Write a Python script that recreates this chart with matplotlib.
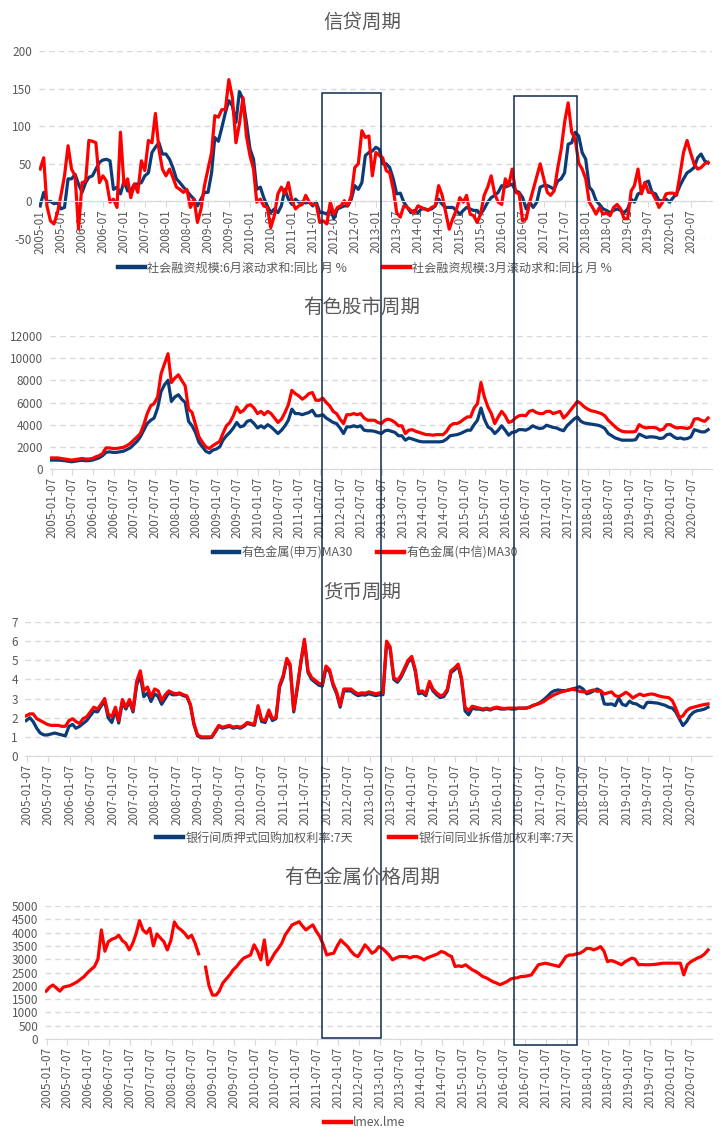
import numpy as np
import pandas as pd
import matplotlib
matplotlib.use('Agg')
import matplotlib.pyplot as plt
import matplotlib.dates as mdates
from matplotlib.patches import Rectangle

plt.rcParams['font.family'] = ['Noto Sans CJK SC', 'DejaVu Sans']
plt.rcParams['axes.unicode_minus'] = False

# 月度日期 2005-01 ~ 2020-12
months = pd.date_range('2005-01-01', periods=192, freq='MS')

# 信贷周期：社会融资规模同比
tsf_6m = [
    -6, 12, 0, 0, -3, -2, -10, -8, 30, 30, 36, 23,
    12, 25, 32, 34, 43, 52, 55, 56, 54, 16, 19, 10,
    27, 14, 14, 23, 23, 25, 34, 38, 65, 72, 78, 63,
    63, 56, 45, 30, 25, 19, 14, 8, 3, -6, 3, 12,
    12, 38, 85, 80, 98, 118, 134, 127, 105, 146, 136, 105,
    70, 56, 16, 19, 5, -6, -15, -10, -15, -6, 16, 3,
    -4, 3, -1, -1, -2, -1, -6, -1, -15, -15, -17, -10,
    -23, -10, -8, -6, -6, 3, 21, 16, 25, 61, 65, 67,
    72, 69, 50, 50, 45, 30, 10, 11, -1, -8, -15, -12,
    -15, -10, -10, -11, -10, -6, 3, -4, -8, -8, -8, -12,
    -17, -12, -8, -10, -12, -12, -17, -10, -1, 5, 8, 12,
    21, 19, 21, 23, 14, 12, 5, -10, -1, -8, -1, 19,
    21, 21, 19, 16, 27, 30, 38, 76, 78, 92, 87, 65,
    56, 19, 14, 1, -4, -10, -12, -15, -12, -10, -12, -15,
    -10, 3, -1, 10, 12, 25, 27, 12, 10, 1, 1, 3,
    -1, 5, 10, 21, 30, 38, 41, 45, 58, 63, 54, 51,
]
tsf_3m = [
    43, 58, -6, -26, -30, -15, 8, 34, 74, 43, 34, -37,
    25, 27, 81, 80, 78, 25, 34, 27, -1, 3, -8, 92,
    21, 30, 5, 23, 12, 54, 41, 81, 78, 117, 69, 43,
    34, 43, 32, 19, 16, 12, 16, -8, 3, -28, -10, 21,
    43, 65, 114, 112, 122, 122, 162, 138, 78, 103, 138, 87,
    61, 43, -1, 3, -6, -8, -35, -19, 10, 19, 10, 25,
    1, -10, -6, -4, 8, -1, -4, -4, -28, -26, -30, -1,
    -17, -8, -6, 1, -6, 8, 45, 50, 94, 85, 87, 34,
    65, 61, 58, 41, 38, 16, -15, -21, -6, -8, -12, -15,
    -6, -8, -10, -12, -8, -6, 21, 8, -15, -37, -23, -12,
    5, -1, 8, -17, -19, -28, -17, 8, 19, 34, 10, -1,
    -4, 30, 21, 43, 12, 10, -26, -23, -1, 16, 34, 50,
    30, 12, 8, 14, 43, 69, 105, 131, 92, 83, 51, 43,
    30, -1, -8, -17, -8, -17, -15, -19, -8, -4, -10, -23,
    -23, 14, 21, 43, 10, 25, 12, 12, 3, -8, -1, 10,
    11, 11, 8, 36, 65, 81, 65, 50, 43, 45, 50, 52,
]

# 有色股市周期：MA30
sw_metal = [
    800, 800, 800, 780, 750, 700, 650, 700, 750, 780, 750, 750,
    800, 900, 1000, 1200, 1500, 1550, 1500, 1500, 1550, 1600, 1750, 1900,
    2200, 2500, 2900, 3500, 4100, 4400, 4600, 5500, 7000, 7600, 8000, 6100,
    6500, 6700, 6300, 6000, 4300, 3900, 3300, 2400, 2000, 1600, 1450, 1700,
    1800, 2000, 2600, 3000, 3300, 3700, 4200, 3800, 3900, 4300, 4400, 4100,
    3700, 3900, 3700, 4000, 3800, 3500, 3200, 3500, 3900, 4400, 5400, 5000,
    5000, 4900, 5000, 5100, 5300, 4800, 4800, 4900, 4600, 4400, 4200, 4100,
    3700, 3200, 3800, 3800, 3900, 3800, 3900, 3500, 3450, 3450, 3400, 3300,
    3200, 3450, 3500, 3400, 3300, 3000, 3000, 2600, 2800, 2700, 2600, 2500,
    2450, 2450, 2450, 2450, 2450, 2450, 2500, 2700, 3000, 3050, 3100, 3200,
    3350, 3500, 3500, 4000, 4400, 5500, 4500, 3800, 3600, 3200, 3500, 3900,
    3500, 3050, 3300, 3350, 3550, 3550, 3500, 3650, 3900, 3750, 3650, 3700,
    3950, 3850, 3750, 3700, 3550, 3450, 3900, 4200, 4500, 4700, 4300, 4150,
    4100, 4050, 4000, 3950, 3850, 3650, 3200, 3000, 2800, 2700, 2600, 2600,
    2600, 2600, 2650, 3150, 3000, 2850, 2900, 2900, 2850, 2750, 2800, 3100,
    3150, 2900, 2750, 2800, 2700, 2750, 2900, 3550, 3450, 3350, 3350, 3550,
]
citic_metal = [
    1000, 1000, 1000, 950, 900, 850, 800, 850, 900, 950, 900, 900,
    950, 1100, 1200, 1400, 1900, 1900, 1850, 1850, 1900, 1950, 2100, 2300,
    2600, 2900, 3200, 4000, 5000, 5700, 5900, 6500, 8600, 9500, 10400, 7800,
    8200, 8500, 8000, 7500, 5400, 5100, 4000, 2900, 2400, 2000, 1850, 2100,
    2300, 2500, 3200, 3900, 4200, 4800, 5600, 5100, 5300, 5700, 5800, 5500,
    5000, 5200, 4900, 5200, 5000, 4600, 4200, 4500, 5100, 5800, 7100, 6800,
    6600, 6300, 6500, 6800, 6900, 6200, 6200, 6400, 6000, 5700, 5200, 5000,
    4500, 4100, 4900, 4900, 5000, 4900, 5000, 4600, 4400, 4400, 4400, 4200,
    4100, 4400, 4500, 4400, 4200, 3900, 3900, 3200, 3500, 3550, 3400, 3300,
    3200, 3100, 3100, 3050, 3100, 3100, 3100, 3400, 3900, 4100, 4100, 4250,
    4500, 4700, 4700, 5500, 5900, 7800, 6500, 5600, 5000, 4100, 4700, 5200,
    4800, 4200, 4300, 4600, 4800, 4850, 4800, 5200, 5300, 5100, 5000, 5000,
    5200, 5200, 5000, 5100, 5200, 4600, 4900, 5300, 5700, 6100, 5900, 5600,
    5400, 5250, 5200, 5100, 5000, 4800, 4400, 4100, 3800, 3550, 3400, 3350,
    3350, 3350, 3400, 4000, 3800, 3700, 3750, 3750, 3700, 3500, 3600, 4000,
    4000, 3800, 3700, 3750, 3700, 3650, 3800, 4500, 4550, 4400, 4300, 4600,
]

# 货币周期：7天利率
repo_7d = [
    1.85, 2.0, 1.8, 1.45, 1.2, 1.1, 1.1, 1.15, 1.2, 1.15, 1.1, 1.05,
    1.55, 1.65, 1.45, 1.55, 1.7, 1.85, 2.1, 2.35, 2.3, 2.6, 2.85, 2.0,
    1.75, 2.4, 1.72, 2.8, 2.45, 2.85, 2.3, 3.7, 4.2, 3.1, 3.3, 2.85,
    3.25, 3.1, 2.7, 3.0, 3.3, 3.2, 3.2, 3.25, 3.15, 3.1, 2.65, 1.65,
    1.05, 0.95, 0.95, 0.95, 0.97, 1.25, 1.55, 1.45, 1.5, 1.55, 1.45, 1.5,
    1.45, 1.55, 1.7, 1.65, 1.6, 2.55, 1.8, 1.75, 2.3, 1.85, 1.95, 3.6,
    4.1, 5.0, 4.7, 2.3, 3.5, 4.85, 6.0, 4.35, 4.0, 3.85, 3.7, 3.65,
    4.6, 4.4, 3.7, 3.25, 2.55, 3.4, 3.4, 3.4, 3.25, 3.15, 3.2, 3.18,
    3.25, 3.2, 3.15, 3.2, 3.2, 5.9, 5.6, 4.0, 3.85, 4.1, 4.5, 4.9,
    5.1, 4.4, 3.25, 3.3, 3.15, 3.8, 3.4, 3.2, 3.05, 3.1, 3.4, 4.35,
    4.5, 4.7, 4.0, 2.35, 2.15, 2.5, 2.45, 2.45, 2.4, 2.45, 2.4, 2.48,
    2.5, 2.45, 2.45, 2.48, 2.45, 2.45, 2.5, 2.5, 2.5, 2.55, 2.65, 2.7,
    2.8, 2.95, 3.1, 3.3, 3.41, 3.45, 3.42, 3.41, 3.45, 3.5, 3.55, 3.62,
    3.5, 3.25, 3.3, 3.4, 3.5, 3.4, 2.72, 2.7, 2.72, 2.63, 3.03, 2.7,
    2.63, 2.86, 2.75, 2.72, 2.6, 2.51, 2.8, 2.8, 2.78, 2.76, 2.7, 2.65,
    2.55, 2.5, 2.3, 1.94, 1.59, 1.8, 2.11, 2.29, 2.37, 2.4, 2.45, 2.55,
]
ibor_7d = [
    2.1, 2.2, 2.2, 1.95, 1.85, 1.75, 1.65, 1.6, 1.6, 1.6, 1.55, 1.55,
    1.85, 1.95, 1.8, 1.7, 1.95, 2.05, 2.3, 2.55, 2.45, 2.7, 3.0, 2.2,
    2.05, 2.55, 1.85, 2.95, 2.55, 2.95, 2.4, 3.9, 4.45, 3.4, 3.6, 3.1,
    3.5, 3.4, 2.9, 3.2, 3.4, 3.3, 3.25, 3.3, 3.2, 3.15, 2.7, 1.7,
    1.1, 1.0, 1.0, 1.0, 1.0, 1.3, 1.6, 1.5, 1.55, 1.6, 1.5, 1.55,
    1.5, 1.6, 1.75, 1.7, 1.65, 2.63, 1.9, 1.85, 2.4, 1.95, 2.0, 3.7,
    4.2, 5.1, 4.8, 2.4, 3.6, 4.95, 6.1, 4.45, 4.1, 3.95, 3.8, 3.75,
    4.7, 4.5, 3.8, 3.35, 2.65, 3.5, 3.5, 3.5, 3.35, 3.25, 3.3, 3.28,
    3.35, 3.3, 3.25, 3.3, 3.3, 6.0, 5.7, 4.1, 3.95, 4.2, 4.6, 5.0,
    5.2, 4.5, 3.35, 3.4, 3.25, 3.9, 3.5, 3.3, 3.15, 3.2, 3.5, 4.45,
    4.6, 4.8, 4.1, 2.55, 2.37, 2.6, 2.55, 2.5, 2.45, 2.5, 2.44, 2.52,
    2.55, 2.5, 2.48, 2.5, 2.5, 2.5, 2.5, 2.5, 2.5, 2.55, 2.63, 2.7,
    2.76, 2.85, 2.98, 3.1, 3.2, 3.28, 3.35, 3.4, 3.45, 3.5, 3.45, 3.38,
    3.35, 3.33, 3.4, 3.45, 3.38, 3.4, 3.24, 3.3, 3.35, 3.15, 3.1, 3.2,
    3.33, 3.2, 3.03, 3.15, 3.24, 3.15, 3.2, 3.24, 3.22, 3.15, 3.1, 3.07,
    3.05, 2.89, 2.5, 2.0, 2.1, 2.37, 2.5, 2.55, 2.6, 2.65, 2.69, 2.72,
]

# 有色金属价格周期：lmex
lmex = [
    1800, 1950, 2030, 1920, 1800, 1950, 1980, 2010, 2080, 2150, 2250, 2350,
    2500, 2620, 2720, 3000, 4100, 3300, 3660, 3750, 3800, 3900, 3700, 3600,
    3350, 3600, 3950, 4450, 4100, 3975, 4160, 3500, 3950, 3800, 3660, 3350,
    3700, 4400, 4200, 4100, 3975, 3800, 3900, 3600, 3200, np.nan, 2700, 2000,
    1650, 1650, 1800, 2100, 2250, 2410, 2600, 2725, 2900, 3040, 3100, 3160,
    3540, 3300, 2975, 3725, 2790, 3000, 3225, 3400, 3600, 3910, 4100, 4290,
    4350, 4410, 4250, 4100, 4200, 4290, 4050, 3850, 3540, 3160, 3200, 3225,
    3500, 3725, 3600, 3475, 3300, 3160, 3100, 3300, 3540, 3400, 3225, 3300,
    3475, 3400, 3290, 3150, 2975, 3050, 3100, 3100, 3100, 3050, 3100, 3100,
    3050, 2975, 3050, 3100, 3150, 3200, 3290, 3250, 3160, 3100, 2725, 2750,
    2725, 2790, 2700, 2600, 2540, 2450, 2350, 2300, 2225, 2150, 2100, 2040,
    2100, 2160, 2250, 2290, 2300, 2350, 2350, 2380, 2410, 2600, 2790, 2820,
    2850, 2820, 2790, 2760, 2725, 2900, 3100, 3160, 3160, 3200, 3225, 3300,
    3410, 3400, 3350, 3400, 3475, 3300, 2910, 2950, 2910, 2850, 2790, 2900,
    2975, 3040, 3000, 2790, 2800, 2790, 2790, 2800, 2810, 2830, 2850, 2850,
    2850, 2850, 2850, 2850, 2410, 2790, 2900, 2975, 3050, 3100, 3200, 3350,
]

# 两个观察窗口
boxes = [('2011-09-20', '2013-02-12'), ('2016-04-18', '2017-10-18')]

BLUE = '#0B3C78'
RED = '#FF0000'
GRAY = '#595959'
GRID = '#D9D9D9'

W, H = 722, 1143
fig = plt.figure(figsize=(W / 100, H / 100), dpi=100)


def px_axes(left, top, bottom, right=712):
    return fig.add_axes([left / W, 1 - bottom / H, (right - left) / W, (bottom - top) / H])


def style(ax, ymin, ymax, step, ticks, fmt):
    ax.set_ylim(ymin, ymax)
    ax.set_yticks(np.arange(ymin, ymax + step / 2, step))
    ax.set_xlim(pd.Timestamp('2004-12-22'), pd.Timestamp('2021-01-04'))
    ax.set_xticks(ticks)
    ax.set_xticklabels([t.strftime(fmt) for t in ticks])
    ax.grid(axis='y', color=GRID, linestyle=(0, (4, 3)), linewidth=1)
    ax.set_axisbelow(True)
    for s in ['left', 'right', 'top']:
        ax.spines[s].set_visible(False)
    ax.spines['bottom'].set_color(GRID)
    ax.tick_params(axis='y', length=0, labelsize=8.5, labelcolor=GRAY, pad=5)
    ax.tick_params(axis='x', length=4, color=GRID, labelsize=8.5, labelcolor=GRAY,
                   pad=2, labelrotation=90)


def legend(ax, y, spacing):
    leg = ax.legend(loc='center', bbox_to_anchor=(365 / W, 1 - y / H),
                    bbox_transform=fig.transFigure, ncol=2, frameon=False,
                    fontsize=8.7, labelcolor=GRAY, handlelength=2.2,
                    columnspacing=spacing, handletextpad=0.2)
    for h in leg.legend_handles:
        h.set_linewidth(3.2)


ticks_m = [pd.Timestamp(y, m, 1) for y in range(2005, 2021) for m in (1, 7)]
ticks_d = [pd.Timestamp(y, m, 7) for y in range(2005, 2021) for m in (1, 7)]
lw = 2.3

# 1 信贷周期
ax1 = px_axes(39, 51, 239)
ax1.spines['bottom'].set_position(('data', 0))
ax1.plot(months, tsf_6m, color=BLUE, lw=lw, label='社会融资规模:6月滚动求和:同比 月 %')
ax1.plot(months, tsf_3m, color=RED, lw=lw, label='社会融资规模:3月滚动求和:同比 月 %')
style(ax1, -50, 200, 50, ticks_m, '%Y-%m')
legend(ax1, 268, 3)
fig.text(362 / W, 1 - 22 / H, '信贷周期', ha='center', va='center', fontsize=14, color=GRAY)

# 2 有色股市周期
ax2 = px_axes(50, 336, 469)
ax2.plot(months, sw_metal, color=BLUE, lw=lw, label='有色金属(申万)MA30')
ax2.plot(months, citic_metal, color=RED, lw=lw, label='有色金属(中信)MA30')
style(ax2, 0, 12000, 2000, ticks_d, '%Y-%m-%d')
legend(ax2, 553, 2)
fig.text(362 / W, 1 - 307 / H, '有色股市周期', ha='center', va='center', fontsize=14, color=GRAY)

# 3 货币周期
ax3 = px_axes(25, 622, 756)
ax3.plot(months, repo_7d, color=BLUE, lw=lw, label='银行间质押式回购加权利率:7天')
ax3.plot(months, ibor_7d, color=RED, lw=lw, label='银行间同业拆借加权利率:7天')
style(ax3, 0, 7, 1, ticks_d, '%Y-%m-%d')
legend(ax3, 838, 3)
fig.text(362 / W, 1 - 592 / H, '货币周期', ha='center', va='center', fontsize=14, color=GRAY)

# 4 有色金属价格周期
ax4 = px_axes(45, 906, 1039)
ax4.plot(months, lmex, color=RED, lw=lw, label='lmex.lme')
style(ax4, 0, 5000, 500, ticks_d, '%Y-%m-%d')
legend(ax4, 1123, 2)
fig.text(362 / W, 1 - 877 / H, '有色金属价格周期', ha='center', va='center', fontsize=14, color=GRAY)

# 观察窗口方框（跨越四张图）
inv = fig.transFigure.inverted()
for (start, end), (top, bot) in zip(boxes, [(93, 1038), (96, 1045)]):
    x0 = inv.transform(ax1.transData.transform((mdates.date2num(pd.Timestamp(start)), 0)))[0]
    x1 = inv.transform(ax1.transData.transform((mdates.date2num(pd.Timestamp(end)), 0)))[0]
    fig.add_artist(Rectangle((x0, 1 - bot / H), x1 - x0, (bot - top) / H,
                             transform=fig.transFigure, fill=False,
                             edgecolor='#0D2A50', lw=1.1, zorder=10))

fig.savefig('out.png', dpi=100)
